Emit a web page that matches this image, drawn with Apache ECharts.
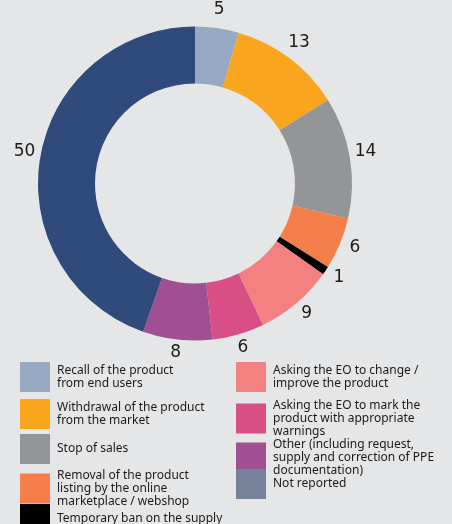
<!DOCTYPE html>
<html><head><meta charset="utf-8">
<script src="https://cdn.jsdelivr.net/npm/echarts@6/dist/echarts.min.js"></script>
<style>html,body{margin:0;padding:0;background:#e5e6e8}#c{width:452px;height:524px}</style>
</head><body><div id="c"></div>
<script>
const categories = [
  'Recall of the product from end users',
  'Withdrawal of the product from the market',
  'Stop of sales',
  'Removal of the product listing by the online marketplace / webshop',
  'Temporary ban on the supply',
  'Asking the EO to change / improve the product',
  'Asking the EO to mark the product with appropriate warnings',
  'Other (including request, supply and correction of PPE documentation)',
  'Not reported'
];
const legendLabels = [
  'Recall of the product\nfrom end users',
  'Withdrawal of the product\nfrom the market',
  'Stop of sales',
  'Removal of the product\nlisting by the online\nmarketplace / webshop',
  'Temporary ban on the supply',
  'Asking the EO to change /\nimprove the product',
  'Asking the EO to mark the\nproduct with appropriate\nwarnings',
  'Other (including request,\nsupply and correction of PPE\ndocumentation)',
  'Not reported'
];
const values = [5, 13, 14, 6, 1, 9, 6, 8, 50];
const sliceColors = ['#97a8c3','#f9a61e','#939598','#f47f4a','#000000','#f48182','#d84f86','#a04f92','#2f4a7b'];
const legendColors = ['#97a8c3','#f9a61e','#939598','#f47f4a','#000000','#f48182','#d84f86','#a04f92','#75829a'];

const data = categories.map((n, i) => ({ name: n, value: values[i], itemStyle: { color: sliceColors[i] } }));
const labelData = categories.map((n, i) => ({ name: n, value: values[i], itemStyle: { color: 'rgba(0,0,0,0)' } }));

const rowTops = [362, 399, 434, 469, 504];
const legends = categories.map((n, i) => {
  const col = i < 5 ? 0 : 1;
  const row = i < 5 ? i : i - 5;
  return {
    left: col === 0 ? 20 : 236,
    top: rowTops[row],
    padding: 0,
    orient: 'vertical',
    icon: 'rect',
    itemWidth: 30,
    itemHeight: 30,
    selectedMode: false,
    data: [{ name: n, itemStyle: { color: legendColors[i] } }],
    formatter: () => legendLabels[i],
    textStyle: { fontFamily: 'Noto Sans', fontSize: 12, lineHeight: 13, color: '#1a1a1a', padding: i === 7 ? [8, 0, 0, 2] : [0, 0, 0, 2] }
  };
});

const chart = echarts.init(document.getElementById('c'));
chart.setOption({
  backgroundColor: '#e5e6e8',
  animation: false,
  legend: legends,
  series: [
    {
      type: 'pie',
      center: [195, 183.5],
      radius: [100, 157],
      startAngle: 90,
      clockwise: true,
      label: { show: false },
      labelLine: { show: false },
      emphasis: { scale: false },
      data: data
    },
    {
      type: 'pie',
      center: [195, 181],
      radius: [166, 174],
      startAngle: 90,
      clockwise: true,
      silent: true,
      label: {
        show: true,
        position: 'inside',
        formatter: '{c}',
        fontFamily: 'DejaVu Sans',
        fontSize: 17,
        color: '#1a1a1a'
      },
      labelLine: { show: false },
      data: labelData
    }
  ]
});
</script>
</body></html>
